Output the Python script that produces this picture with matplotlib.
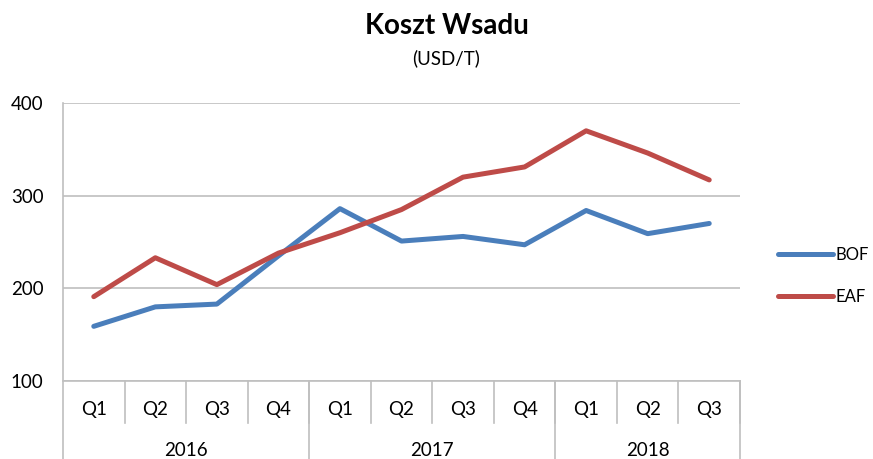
import matplotlib.pyplot as plt

# --- data ---
quarters = ["Q1", "Q2", "Q3", "Q4", "Q1", "Q2", "Q3", "Q4", "Q1", "Q2", "Q3"]
years = ["2016", "2017", "2018"]
year_sizes = [4, 4, 3]
bof = [159, 180, 183, 235, 286, 251, 256, 247, 284, 259, 270]
eaf = [191, 233, 204, 238, 260, 285, 320, 331, 370, 346, 317]

plt.rcParams['font.family'] = ['Lato', 'DejaVu Sans']

fig = plt.figure(figsize=(8.73, 4.59), dpi=100)
W, H = 873, 459
left, right, top, bottom = 63, 740, 103, 381
ax = fig.add_axes([left / W, 1 - bottom / H, (right - left) / W, (bottom - top) / H])

x = list(range(len(quarters)))
ax.plot(x, bof, color="#4A7EBB", lw=3.6, solid_capstyle="round", solid_joinstyle="round", label="BOF")
ax.plot(x, eaf, color="#BE4B48", lw=3.6, solid_capstyle="round", solid_joinstyle="round", label="EAF")

fs = 13.5
ax.set_xlim(-0.5, len(quarters) - 0.5)
ax.set_ylim(100, 400)
ax.set_yticks([100, 200, 300, 400])
ax.tick_params(axis="y", length=0, labelsize=fs, pad=14)
ax.set_xticks([])
ax.grid(axis="y", color="#BFBFBF", lw=1.2)
ax.set_axisbelow(True)
for s in ["top", "right"]:
    ax.spines[s].set_visible(False)
ax.spines["left"].set_visible(False)
ax.spines["bottom"].set_color("#BFBFBF")
ax.spines["bottom"].set_linewidth(1.2)

# multi-level category axis
axh = bottom - top
tr = ax.get_xaxis_transform()
q_lbl_y = -28 / axh
q_div_y = -42 / axh
yr_lbl_y = -69 / axh
yr_div_y = -78 / axh
gray = "#BFBFBF"

ax.plot([-0.5, -0.5], [1, yr_div_y], transform=tr, color=gray, lw=1.2, clip_on=False)
for i, q in enumerate(quarters):
    ax.text(i, q_lbl_y, q, transform=tr, ha="center", va="center", fontsize=fs)
    ax.plot([i + 0.5, i + 0.5], [0, q_div_y], transform=tr, color=gray, lw=1.2, clip_on=False)

start = -0.5
for yr, n in zip(years, year_sizes):
    end = start + n
    ax.text((start + end) / 2, yr_lbl_y, yr, transform=tr, ha="center", va="center", fontsize=fs)
    ax.plot([end, end], [0, yr_div_y], transform=tr, color=gray, lw=1.2, clip_on=False)
    start = end

fig.text(447 / W, 1 - 26 / H, "Koszt Wsadu", ha="center", va="center", fontsize=20, fontweight="bold")
fig.text(446 / W, 1 - 58 / H, "(USD/T)", ha="center", va="center", fontsize=fs)

lfs = 12
ax.legend(loc="center left", bbox_to_anchor=(778 / W, 1 - 276 / H), bbox_transform=fig.transFigure,
          frameon=False, fontsize=lfs, handlelength=3.3, handletextpad=0.15, labelspacing=1.57,
          borderpad=0, borderaxespad=0)

fig.savefig("out.png", dpi=100)
